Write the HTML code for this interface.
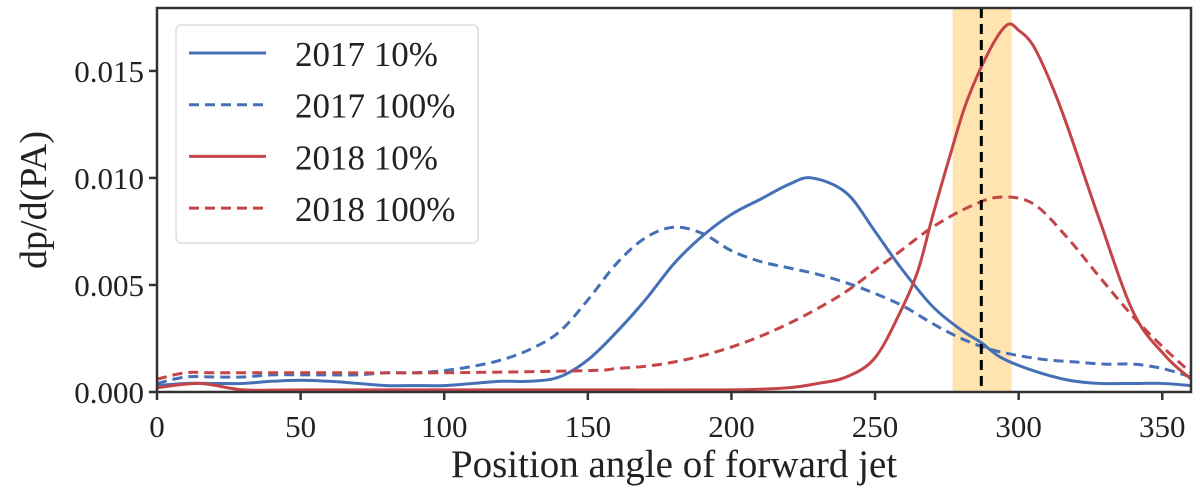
<!DOCTYPE html>
<html><head><meta charset="utf-8"><style>
body{margin:0;background:#fff}
svg{display:block;font-family:"Liberation Serif",serif}
</style></head><body>
<svg id="chart" width="1200" height="490" viewBox="0 0 1200 490" xmlns="http://www.w3.org/2000/svg">
<g id="plot"></g>
</svg>
<script>
const xTicks=[0,50,100,150,200,250,300,350];
const yTicks=[0,0.005,0.010,0.015];
const yTickLabels=["0.000","0.005","0.010","0.015"];
const xs2017s=[0,10,20,30,40,50,60,70,80,90,100,110,120,130,140,150,160,170,180,190,200,210,220,228,240,250,259,270,280,287,294,305,317,328,340,350,360];
const ys2017s=[0.0003,0.0004,0.0004,0.0004,0.0005,0.00055,0.0005,0.0004,0.0003,0.0003,0.0003,0.0004,0.0005,0.0005,0.0007,0.0015,0.0028,0.0043,0.006,0.0073,0.0083,0.009,0.0097,0.01,0.0093,0.0075,0.0058,0.004,0.0029,0.0023,0.0016,0.001,0.00056,0.0004,0.0004,0.0004,0.0003];
const xs2017d=[0,10,20,30,40,50,60,70,80,90,100,110,120,130,140,150,160,170,180,190,200,210,220,230,240,250,260,270,280,290,300,310,320,330,340,350,360];
const ys2017d=[0.0004,0.0007,0.0007,0.0007,0.0008,0.0008,0.0008,0.0008,0.0009,0.0009,0.001,0.0012,0.0015,0.002,0.0028,0.0043,0.006,0.0072,0.0077,0.0074,0.0066,0.0061,0.0058,0.0055,0.0051,0.0046,0.004,0.0032,0.0025,0.002,0.0017,0.0015,0.0014,0.0013,0.0013,0.0011,0.0007];
const xs2018s=[0,15,30,50,100,150,200,220,230,240,250,259,265,270,276,282,290,296,300,305,311,317,328,340,351,360];
const ys2018s=[0.0002,0.0004,0.0001,0.0001,0.0001,0.0001,0.0001,0.0002,0.0004,0.0007,0.0016,0.0038,0.0057,0.0082,0.011,0.0136,0.016,0.01715,0.0169,0.0162,0.0145,0.0124,0.0081,0.0037,0.0017,0.0006];
const xs2018d=[0,10,20,50,100,150,160,170,180,190,200,210,220,230,240,250,259,270,282,293,305,317,328,340,351,360];
const ys2018d=[0.0006,0.0009,0.0009,0.0009,0.0009,0.001,0.0011,0.0012,0.0014,0.0017,0.0021,0.0026,0.0032,0.0039,0.0047,0.0057,0.0066,0.0077,0.0086,0.0091,0.0088,0.0072,0.0054,0.0035,0.002,0.0009];
const vline=287, band=[277,297.5];

const L=157,R=1191,T=8,B=392,xmax=360,ymax=0.01794;
const X=v=>L+(R-L)*v/xmax, Y=v=>B-(B-T)*v/ymax;
const NS="http://www.w3.org/2000/svg";
const g=document.getElementById('plot');
function el(t,a,p){const e=document.createElementNS(NS,t);for(const k in a)e.setAttribute(k,a[k]);(p||g).appendChild(e);return e;}
const cp=el('clipPath',{id:'clip'});el('rect',{x:L,y:T,width:R-L,height:B-T},cp);

const bandEl=el('rect',{x:X(band[0]),y:T,width:X(band[1])-X(band[0]),height:B-T,fill:'#ffe4b0'});



function path(xs,ys){const p=xs.map((x,i)=>[X(x),Y(ys[i])]);let d=`M${p[0][0]},${p[0][1]}`;
for(let i=0;i<p.length-1;i++){const p0=p[Math.max(i-1,0)],p1=p[i],p2=p[i+1],p3=p[Math.min(i+2,p.length-1)];
d+=` C${p1[0]+(p2[0]-p0[0])/6},${p1[1]+(p2[1]-p0[1])/6} ${p2[0]-(p3[0]-p1[0])/6},${p2[1]-(p3[1]-p1[1])/6} ${p2[0]},${p2[1]}`;}return d;}
const series=[[xs2017s,ys2017s,'#4570b5',null,'line-2017-10'],[xs2017d,ys2017d,'#4570b5','10,6','line-2017-100'],[xs2018s,ys2018s,'#c44448',null,'line-2018-10'],[xs2018d,ys2018d,'#c44448','10,6','line-2018-100']];
series.forEach(s=>{const a={d:path(s[0],s[1]),fill:'none',stroke:s[2],'stroke-width':3,'clip-path':'url(#clip)'};if(s[3])a['stroke-dasharray']=s[3];
const e=el('path',a);

});

const vl=el('line',{x1:X(vline),x2:X(vline),y1:T,y2:B,stroke:'#000','stroke-width':3,'stroke-dasharray':'10,6'});



xTicks.forEach(t=>{el('line',{x1:X(t),x2:X(t),y1:B,y2:B+8,stroke:'#333','stroke-width':2.5});
const tx=el('text',{x:X(t),y:B+45,'text-anchor':'middle','font-size':31,fill:'#222'});tx.textContent=t;

});
yTicks.forEach((t,i)=>{el('line',{x1:L-8,x2:L,y1:Y(t),y2:Y(t),stroke:'#333','stroke-width':2.5});
const tx=el('text',{x:L-13,y:Y(t)+11,'text-anchor':'end','font-size':31,fill:'#222'});tx.textContent=yTickLabels[i];

});
el('rect',{x:L,y:T,width:R-L,height:B-T,fill:'none',stroke:'#333','stroke-width':2.5});

const xt=el('text',{x:(L+R)/2,y:477,'text-anchor':'middle','font-size':39,fill:'#222'});xt.textContent='Position angle of forward jet';


const yt=el('text',{x:0,y:0,'text-anchor':'middle','font-size':38,fill:'#222',transform:`translate(46,${(T+B)/2}) rotate(-90)`});yt.textContent='dp/d(PA)';



const lg=el('g',{});


el('rect',{x:176,y:25,width:302,height:218,rx:5,fill:'#fff','fill-opacity':0.85,stroke:'#ddd','stroke-width':1.5},lg);
const labels=['2017 10%','2017 100%','2018 10%','2018 100%'];
series.forEach((s,i)=>{const y=53+i*51.7;const a={x1:189,x2:266,y1:y,y2:y,stroke:s[2],'stroke-width':3};if(s[3])a['stroke-dasharray']=s[3];el('line',a,lg);
const t=el('text',{x:295,y:y+13,'font-size':35,fill:'#222'},lg);t.textContent=labels[i];

});
</script>
</body></html>
